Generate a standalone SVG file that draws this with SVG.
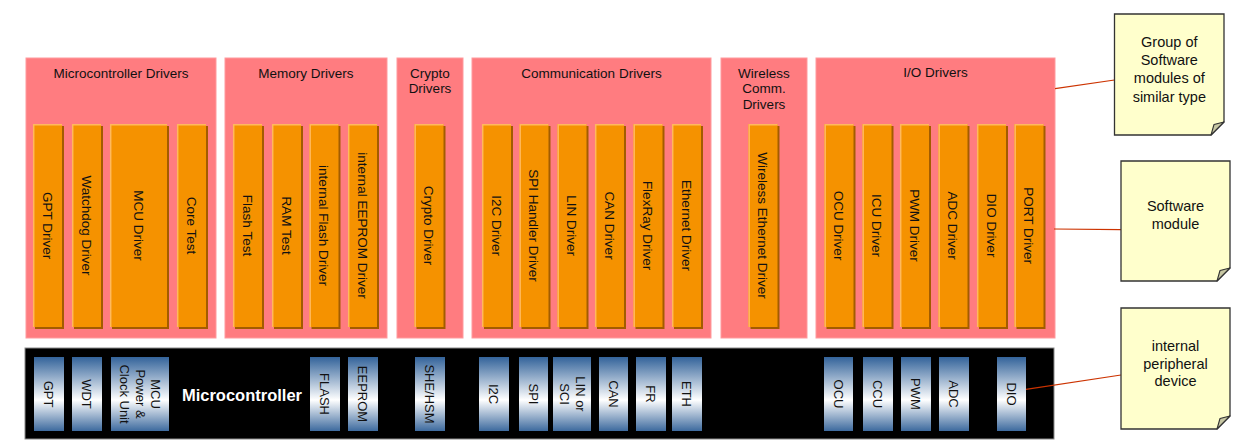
<svg xmlns="http://www.w3.org/2000/svg" width="1243" height="448" viewBox="0 0 1243 448">
<defs>
<linearGradient id="pg" x1="0" y1="0" x2="0" y2="1">
<stop offset="0" stop-color="#33639a"/>
<stop offset="0.58" stop-color="#ffffff"/>
<stop offset="1" stop-color="#3d6a9e"/>
</linearGradient>
<g id="mod">
<rect x="2" y="2" width="29" height="203" fill="#a35c00"/>
<rect x="0" y="0" width="29" height="203" fill="#f59200"/>
<path d="M0.7,203 V0.7 H29" fill="none" stroke="#ffb95c" stroke-width="1.5"/>
</g>
</defs>
<style>
text{font-family:"Liberation Sans",Arial,sans-serif;fill:#111;text-anchor:middle}
.grp{fill:#ff7c80;stroke:#ff9a9d;stroke-width:1}
.gt{font-size:13.5px}
.mt{font-size:13.5px}
.pt{font-size:13px}
.nt{font-size:14.5px}
.per{fill:url(#pg)}
.note{fill:#ffffcc;stroke:#333;stroke-width:1.3}
.fold{fill:#c8c8a4;stroke:#333;stroke-width:1.1;stroke-linejoin:round}
.conn{stroke:#cc3300;stroke-width:1.2;fill:none}
</style>
<rect width="1243" height="448" fill="#ffffff"/>

<g id="grp-micro">
<rect class="grp" x="26" y="58" width="190" height="280"/>
<text class="gt" x="121" y="77.5">Microcontroller Drivers</text>
<use href="#mod" x="33" y="124"/><text class="mt" transform="translate(47.5,225.5) rotate(90)" dy="0.35em">GPT Driver</text>
<use href="#mod" x="72" y="124"/><text class="mt" transform="translate(86.5,225.5) rotate(90)" dy="0.35em">Watchdog Driver</text>
<g><rect x="112" y="126" width="57" height="203" fill="#a35c00"/><rect x="110" y="124" width="57" height="203" fill="#f59200"/><path d="M110.7,327 V124.7 H167" fill="none" stroke="#ffb95c" stroke-width="1.5"/></g>
<text class="mt" transform="translate(138.5,225.5) rotate(90)" dy="0.35em">MCU Driver</text>
<use href="#mod" x="177" y="124"/><text class="mt" transform="translate(191.5,225.5) rotate(90)" dy="0.35em">Core Test</text>
</g>

<g id="grp-memory">
<rect class="grp" x="225" y="58" width="162" height="280"/>
<text class="gt" x="306" y="77.5">Memory Drivers</text>
<use href="#mod" x="233" y="124"/><text class="mt" transform="translate(247.5,225.5) rotate(90)" dy="0.35em">Flash Test</text>
<use href="#mod" x="272" y="124"/><text class="mt" transform="translate(286.5,225.5) rotate(90)" dy="0.35em">RAM Test</text>
<use href="#mod" x="309.5" y="124"/><text class="mt" transform="translate(324,225.5) rotate(90)" dy="0.35em">internal Flash Driver</text>
<use href="#mod" x="348" y="124"/><text class="mt" transform="translate(362.5,225.5) rotate(90)" dy="0.35em">internal EEPROM Driver</text>
</g>

<g id="grp-crypto">
<rect class="grp" x="397" y="58" width="66" height="280"/>
<text class="gt" x="430" y="77.5">Crypto</text>
<text class="gt" x="430" y="93">Drivers</text>
<use href="#mod" x="414.5" y="124"/><text class="mt" transform="translate(429,225.5) rotate(90)" dy="0.35em">Crypto Driver</text>
</g>

<g id="grp-comm">
<rect class="grp" x="472" y="58" width="239" height="280"/>
<text class="gt" x="591.5" y="77.5">Communication Drivers</text>
<use href="#mod" x="482" y="124"/><text class="mt" transform="translate(496.5,225.5) rotate(90)" dy="0.35em">I2C Driver</text>
<use href="#mod" x="519.5" y="124"/><text class="mt" transform="translate(534,225.5) rotate(90)" dy="0.35em">SPI Handler Driver</text>
<use href="#mod" x="557.5" y="124"/><text class="mt" transform="translate(572,225.5) rotate(90)" dy="0.35em">LIN Driver</text>
<use href="#mod" x="595" y="124"/><text class="mt" transform="translate(609.5,225.5) rotate(90)" dy="0.35em">CAN Driver</text>
<use href="#mod" x="633.5" y="124"/><text class="mt" transform="translate(648,225.5) rotate(90)" dy="0.35em">FlexRay Driver</text>
<use href="#mod" x="672" y="124"/><text class="mt" transform="translate(686.5,225.5) rotate(90)" dy="0.35em">Ethernet Driver</text>
</g>

<g id="grp-wireless">
<rect class="grp" x="721" y="58" width="86" height="280"/>
<text class="gt" x="764" y="77.5">Wireless</text>
<text class="gt" x="764" y="93">Comm.</text>
<text class="gt" x="764" y="108.5">Drivers</text>
<use href="#mod" x="748.5" y="124"/><text class="mt" transform="translate(763,225.5) rotate(90)" dy="0.35em">Wireless Ethernet Driver</text>
</g>

<g id="grp-io">
<rect class="grp" x="816" y="58" width="239" height="280"/>
<text class="gt" x="935.5" y="76.5">I/O Drivers</text>
<use href="#mod" x="824.5" y="124"/><text class="mt" transform="translate(839,225.5) rotate(90)" dy="0.35em">OCU Driver</text>
<use href="#mod" x="862.5" y="124"/><text class="mt" transform="translate(877,225.5) rotate(90)" dy="0.35em">ICU Driver</text>
<use href="#mod" x="900" y="124"/><text class="mt" transform="translate(914.5,225.5) rotate(90)" dy="0.35em">PWM Driver</text>
<use href="#mod" x="938.5" y="124"/><text class="mt" transform="translate(953,225.5) rotate(90)" dy="0.35em">ADC Driver</text>
<use href="#mod" x="977" y="124"/><text class="mt" transform="translate(991.5,225.5) rotate(90)" dy="0.35em">DIO Driver</text>
<use href="#mod" x="1014.5" y="124"/><text class="mt" transform="translate(1029,225.5) rotate(90)" dy="0.35em">PORT Driver</text>
</g>

<g id="microcontroller">
<rect x="25" y="348" width="1029" height="91" fill="#000" stroke="#8a8a8a" stroke-width="1"/>
<text x="242" y="401" style="font-size:16.5px;font-weight:bold;fill:#fff">Microcontroller</text>
<rect class="per" x="34" y="357" width="30" height="74"/><text class="pt" transform="translate(49,394) rotate(90)" dy="0.35em">GPT</text>
<rect class="per" x="72" y="357" width="30" height="74"/><text class="pt" transform="translate(87,394) rotate(90)" dy="0.35em">WDT</text>
<rect class="per" x="111" y="357" width="58" height="74"/>
<text class="pt" transform="translate(140,394) rotate(90)"><tspan x="0" y="-11">MCU</tspan><tspan x="0" y="4.5">Power &amp;</tspan><tspan x="0" y="20">Clock Unit</tspan></text>
<rect class="per" x="310" y="357" width="30" height="74"/><text class="pt" transform="translate(325,394) rotate(90)" dy="0.35em">FLASH</text>
<rect class="per" x="348" y="357" width="30" height="74"/><text class="pt" transform="translate(363,394) rotate(90)" dy="0.35em">EEPROM</text>
<rect class="per" x="415" y="357" width="30" height="74"/><text class="pt" transform="translate(430,394) rotate(90)" dy="0.35em">SHE/HSM</text>
<rect class="per" x="479" y="357" width="30" height="74"/><text class="pt" transform="translate(494,394) rotate(90)" dy="0.35em">I2C</text>
<rect class="per" x="519" y="357" width="29" height="74"/><text class="pt" transform="translate(533.5,394) rotate(90)" dy="0.35em">SPI</text>
<rect class="per" x="553" y="357" width="38" height="74"/>
<text class="pt" transform="translate(572,394) rotate(90)"><tspan x="0" y="-3.5">LIN or</tspan><tspan x="0" y="12.5">SCI</tspan></text>
<rect class="per" x="599" y="357" width="29" height="74"/><text class="pt" transform="translate(613.5,394) rotate(90)" dy="0.35em">CAN</text>
<rect class="per" x="636" y="357" width="30" height="74"/><text class="pt" transform="translate(651,394) rotate(90)" dy="0.35em">FR</text>
<rect class="per" x="672" y="357" width="30" height="74"/><text class="pt" transform="translate(687,394) rotate(90)" dy="0.35em">ETH</text>
<rect class="per" x="824" y="357" width="29" height="74"/><text class="pt" transform="translate(838.5,394) rotate(90)" dy="0.35em">OCU</text>
<rect class="per" x="863" y="357" width="30" height="74"/><text class="pt" transform="translate(878,394) rotate(90)" dy="0.35em">CCU</text>
<rect class="per" x="901" y="357" width="30" height="74"/><text class="pt" transform="translate(916,394) rotate(90)" dy="0.35em">PWM</text>
<rect class="per" x="939" y="357" width="30" height="74"/><text class="pt" transform="translate(954,394) rotate(90)" dy="0.35em">ADC</text>
<rect class="per" x="997" y="357" width="29" height="74"/><text class="pt" transform="translate(1011.5,394) rotate(90)" dy="0.35em">DIO</text>
</g>

<g id="connectors">
<line class="conn" x1="1055" y1="88.7" x2="1114.5" y2="80"/>
<line class="conn" x1="1054" y1="229" x2="1121" y2="229.7"/>
<line class="conn" x1="1026" y1="389.3" x2="1121" y2="375"/>
</g>

<g id="note-group">
<path class="note" d="M1114.5,14 H1224 V122 L1211,135 H1114.5 Z"/>
<path class="fold" d="M1211,135 L1224,122 L1214,124.5 Z"/>
<text class="nt" x="1169.3" y="47">Group of</text>
<text class="nt" x="1169.3" y="65">Software</text>
<text class="nt" x="1169.3" y="83">modules of</text>
<text class="nt" x="1169.3" y="101.5">similar type</text>
</g>

<g id="note-module">
<path class="note" d="M1121,161 H1230 V268 L1217,281 H1121 Z"/>
<path class="fold" d="M1217,281 L1230,268 L1220,270.5 Z"/>
<text class="nt" x="1175.5" y="211">Software</text>
<text class="nt" x="1175.5" y="229">module</text>
</g>

<g id="note-device">
<path class="note" d="M1121,308 H1230 V416 L1217,429 H1121 Z"/>
<path class="fold" d="M1217,429 L1230,416 L1220,418.5 Z"/>
<text class="nt" x="1175.5" y="351">internal</text>
<text class="nt" x="1175.5" y="368.5">peripheral</text>
<text class="nt" x="1175.5" y="386">device</text>
</g>
</svg>
